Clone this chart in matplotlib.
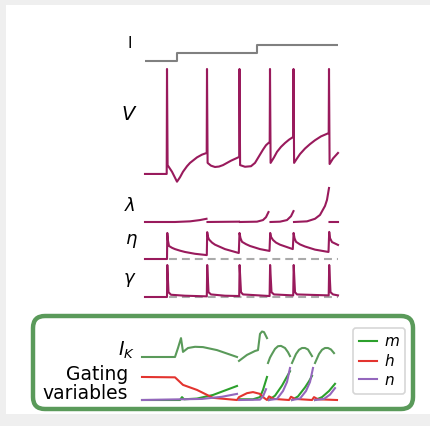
import numpy as np
import matplotlib
matplotlib.use("Agg")
import matplotlib.pyplot as plt
from matplotlib.patches import Rectangle, FancyBboxPatch

nan = np.nan

# ---- top panel data (time in ms) ----
i_t = [0, 32, 32, 112, 112, 193]
i_val = [0, 0, 1, 1, 2, 2]

v_t = [0, 21.7, 22, 22.6, 27, 32, 35, 38, 42, 45, 52, 57, 61.7,
       62, 62.6, 66, 70, 74, 78, 86, 94.2,
       94.5, 95.1, 100, 106, 110, 114, 118, 121, 124.7,
       125, 125.6, 129, 132, 136, 140, 144, 148.2,
       148.5, 149.1, 152, 155, 160, 165, 170, 176, 183.7,
       184, 184.6, 188, 193]
v = [-65, -65, 30, -57, -63, -72, -68, -63, -58, -55, -50, -47.5, -46,
     30, -55, -57.5, -58.7, -58.3, -57, -53, -49.6,
     30, -57, -58.5, -58, -55, -49, -43, -39, -36,
     30, -55, -50, -45, -40.5, -37, -34, -31.5,
     30, -55, -51, -47, -42, -38, -34.5, -31, -28,
     30, -56, -51, -46]

lam_t = [0, 30, 45, 55, 61.5, nan,
         62.5, 94, nan,
         95, 112, 118, 121, 123.5, nan,
         125.5, 135, 142, 146, 148.5, nan,
         149, 162, 170, 175, 180, 182, 184, nan,
         184.5, 193]
lam = [0, 0, 0.02, 0.06, 0.1, nan,
       0, 0.01, nan,
       0, 0.01, 0.06, 0.15, 0.31, nan,
       0, 0.01, 0.06, 0.18, 0.34, nan,
       0, 0.02, 0.1, 0.22, 0.5, 0.69, 1.06, nan,
       0, 0]

eta_t = [0, 22, 22.3, 23, 24, 27, 30, 35, 40, 50, 61.8,
         62.2, 63, 64, 67, 70, 80, 93.8,
         94.5, 95.5, 97, 101, 105, 115, 124.5,
         125.2, 126, 128, 131, 135, 147.8,
         148.6, 149.5, 151, 155, 160, 170, 183.5,
         184.2, 185, 187, 193]
eta = [0, 0, 1, 0.7, 0.5, 0.43, 0.38, 0.32, 0.27, 0.2, 0.15,
       1.03, 0.85, 0.75, 0.63, 0.55, 0.38, 0.23,
       1, 0.8, 0.66, 0.57, 0.5, 0.38, 0.31,
       1, 0.85, 0.73, 0.63, 0.55, 0.38,
       1, 0.8, 0.66, 0.56, 0.48, 0.36, 0.27,
       1.04, 0.8, 0.65, 0.54]

gam_t = [0, 22, 22.3, 23.5, 26, 40, 61.8,
         62.2, 63.5, 66, 80, 94.2,
         94.6, 96, 98, 124.6,
         125.1, 126.5, 129, 148.2,
         148.7, 150, 152, 183.7,
         184.2, 185.5, 188, 193]
gam = [0, 0, 1, 0.15, 0.07, 0.04, 0.02,
       1, 0.15, 0.08, 0.04, 0.03,
       1, 0.15, 0.08, 0.03,
       1, 0.15, 0.08, 0.05,
       1, 0.15, 0.08, 0.05,
       1, 0.15, 0.08, 0.05]

# ---- bottom panel data ----
ik_t = [0, 33, 36, 39, 41, 46, 53, 61, 75, 95, nan,
        97, 105, 113, 116, 118, 120, 122, 125, nan,
        126, 128, 130, 133, 136, 139, 143, 146, 148, nan,
        150, 152, 154, 157, 160, 163, 166, 170, nan,
        173, 175, 177, 180, 183, 186, 189, 192]
ik = [0.2, 0.2, 0.5, 0.83, 0.37, 0.5, 0.54, 0.53, 0.43, 0.2, nan,
      0.07, 0.27, 0.4, 0.43, 0.97, 1.05, 1.03, 0.83, nan,
      0, 0.18, 0.3, 0.47, 0.56, 0.57, 0.5, 0.36, 0.23, nan,
      0, 0.15, 0.3, 0.44, 0.5, 0.5, 0.45, 0.23, nan,
      0, 0.15, 0.3, 0.44, 0.5, 0.5, 0.45, 0.33]

m_t = [0, 38, 40, 42, 55, 71, 95, nan,
       97, 111, 118, 121, 125, nan,
       127, 133, 140, 144, 148, nan,
       150, 156, 163, 167, 170, nan,
       173, 180, 187, 193]
m = [0, 0, 0.08, 0.02, 0.04, 0.14, 0.39, nan,
     0.02, 0.02, 0.08, 0.28, 0.64, nan,
     0, 0.12, 0.4, 0.6, 0.8, nan,
     0, 0.1, 0.35, 0.52, 0.67, nan,
     0, 0.08, 0.25, 0.45]

h_t = [0, 33, 41, 55, 71, 95, 97, 105, 111, 118, 122, 125,
       127, 132, 147, 149, 153, 170, 172, 176, 195]
h = [0.64, 0.63, 0.42, 0.28, 0.06, 0.0, 0.08, 0.19, 0.22, 0.17, 0.06, 0.0,
     0.1, 0.03, 0.0, 0.09, 0.03, 0.0, 0.08, 0.02, 0.0]

n_t = [0, 60, 80, 95, nan,
       97, 118, 121, 124, nan,
       127, 135, 141, 145, 148, nan,
       150, 158, 164, 168, 171, nan,
       173, 182, 188, 193]
n = [0, 0.03, 0.09, 0.17, nan,
     0, 0.01, 0.1, 0.3, nan,
     0, 0.03, 0.25, 0.5, 0.89, nan,
     0, 0.04, 0.25, 0.5, 0.89, nan,
     0, 0.03, 0.15, 0.33]

W, H = 431, 426
MAG = "#991a5c"
fig = plt.figure(figsize=(W / 100, H / 100), dpi=100, facecolor="#efefef")

# white page + green frame (pixel coords)
def px_box(x0, y0, x1, y1):
    return x0 / 100, (H - y1) / 100, (x1 - x0) / 100, (y1 - y0) / 100

bx, by, bw, bh = px_box(6, 5, 431, 414)
fig.patches.append(Rectangle((bx, by), bw, bh, transform=fig.dpi_scale_trans,
                             facecolor="white", edgecolor="none", zorder=-10))
bx, by, bw, bh = px_box(45, 328, 401, 397)
fig.patches.append(FancyBboxPatch((bx, by), bw, bh, boxstyle="round,pad=0.12,rounding_size=0.12",
                                  transform=fig.dpi_scale_trans, facecolor="none",
                                  edgecolor="#5a9a5a", lw=3.2, zorder=-5))


def add_ax(x0, y0, x1, y1, xlim, ylim):
    ax = fig.add_axes([x0 / W, 1 - y1 / H, (x1 - x0) / W, (y1 - y0) / H])
    ax.set_xlim(*xlim)
    ax.set_ylim(*ylim)
    ax.axis("off")
    ax.patch.set_alpha(0)
    return ax


def label(x, y, s, **kw):
    fig.text(x / W, 1 - y / H, s, **kw)


# top traces
ax_i = add_ax(145, 41, 338, 65, (0, 193), (-0.5, 2.5))
ax_i.plot(i_t, i_val, color="#808080", lw=1.5)

ax_v = add_ax(145, 66, 338, 185, (0, 193), (-75, 32.7))
ax_v.plot(v_t, v, color=MAG, lw=1.5, clip_on=False)

ax_l = add_ax(145, 188, 338, 226, (0, 193), (-0.125, 1.06))
ax_l.plot(lam_t, lam, color=MAG, lw=1.5, clip_on=False)

ax_e = add_ax(145, 228, 338, 262, (0, 193), (-0.115, 1.19))
ax_e.hlines(0, 24, 193, colors="#aaaaaa", linestyles=(0, (3.8, 2.4)), lw=1.5, zorder=1)
ax_e.plot(eta_t, eta, color=MAG, lw=1.5, clip_on=False, zorder=2)

ax_g = add_ax(145, 262, 338, 300, (0, 193), (-0.094, 1.094))
ax_g.hlines(0, 24, 193, colors="#aaaaaa", linestyles=(0, (3.8, 2.4)), lw=1.5, zorder=1)
ax_g.plot(gam_t, gam, color=MAG, lw=1.5, clip_on=False, zorder=2)

label(130, 43, "I", fontsize=11, ha="center", va="center")
label(129, 114, "$V$", fontsize=14, ha="center", va="center")
label(130, 206, r"$\lambda$", fontsize=13, ha="center", va="center")
label(131, 241, r"$\eta$", fontsize=13, ha="center", va="center")
label(130, 280, r"$\gamma$", fontsize=13, ha="center", va="center")

# bottom traces
ax_k = add_ax(142, 328, 337, 368, (0, 195), (-0.167, 1.167))
ax_k.plot(ik_t, ik, color="#5a9a5a", lw=1.5, clip_on=False)

ax_gv = add_ax(142, 362, 337, 404, (0, 195), (-0.111, 1.056))
lm, = ax_gv.plot(m_t, m, color="#2ca02c", lw=1.5, clip_on=False, label="$m$")
lh, = ax_gv.plot(h_t, h, color="#e3342f", lw=1.5, clip_on=False, label="$h$")
ln, = ax_gv.plot(n_t, n, color="#9467bd", lw=1.5, clip_on=False, label="$n$")

label(135, 350, "$I_K$", fontsize=13.5, ha="right", va="center")
label(128, 384, "Gating\nvariables", fontsize=13.5, ha="right", va="center",
      multialignment="right", linespacing=1.05)

leg = fig.legend(handles=[lm, lh, ln], loc="upper left",
                 bbox_to_anchor=(353 / W, 1 - 328 / H), borderaxespad=0,
                 fontsize=11, handlelength=1.2, handletextpad=0.4,
                 labelspacing=0.25, borderpad=0.4, frameon=True)
leg.get_frame().set_edgecolor("#cccccc")
leg.get_frame().set_linewidth(1.2)

fig.savefig("out.png", dpi=100, facecolor=fig.get_facecolor())
